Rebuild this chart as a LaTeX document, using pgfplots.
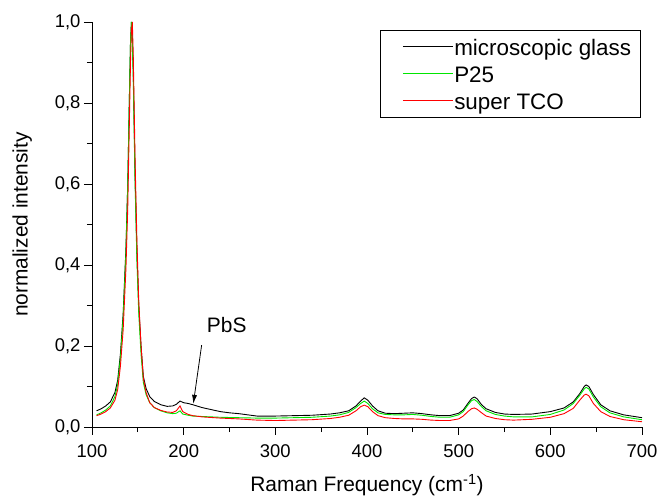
\documentclass[border=0pt]{standalone}
\usepackage{fontspec}
\setmainfont{Liberation Sans}
\usepackage{pgfplots}
\pgfplotsset{compat=1.18}
\usetikzlibrary{arrows.meta}
\definecolor{pgreen}{RGB}{0,230,0}
\newcommand{\lstrut}{\rule{0pt}{21bp}}
\begin{document}
\begin{tikzpicture}
\begin{axis}[
  scale only axis, width=550bp, height=405bp,
  xmin=100, xmax=700, ymin=0, ymax=1,
  axis x line*=bottom, axis y line*=left,
  axis line style={line width=0.8pt},
  tick align=outside, tick style={line width=0.8pt, black},
  major tick length=8bp, minor tick length=5bp,
  xtick={100,200,...,700}, ytick={0,0.2,...,1.0},
  minor x tick num=1, minor y tick num=1,
  /pgf/number format/assume math mode=true,
  yticklabel style={/pgf/number format/.cd, use comma, fixed, fixed zerofill, precision=1},
  xticklabel style={/pgf/number format/.cd, fixed, 1000 sep={}},
  xticklabel shift=6bp,
  tick label style={font=\fontsize{18.5}{22}\selectfont},
  label style={font=\fontsize{21}{25}\selectfont},
  xlabel={Raman Frequency (cm\textsuperscript{-1})},
  ylabel={normalized intensity},
  xlabel style={at={(axis description cs:0.5,-0.143)}, anchor=center},
  ylabel style={at={(axis description cs:-0.127,0.5)}, anchor=center},
  legend style={at={(rel axis cs:0.997,0.98)}, anchor=north east,
    font=\fontsize{22.5}{27}\selectfont, inner xsep=8bp, inner ysep=3bp,
    nodes={inner sep=1bp, text depth=4bp}},
  legend cell align=left,
  legend image code/.code={\path (0bp,0bp); \draw[#1] (14bp,0bp) -- (64bp,0bp);},
  clip=false,
]
\addplot[draw=black, line width=0.9pt] coordinates {
(105,0.040) (110,0.045) (115,0.052) (120,0.062) (125,0.085) (128,0.115) (131,0.18) (134,0.28)
(137,0.44) (139,0.60) (141,0.84) (142,0.95) (143,1.00) (144,0.96) (145,0.88) (147,0.62)
(149,0.43) (151,0.30) (153.5,0.20) (156,0.125) (159,0.095) (163,0.075) (168,0.063) (175,0.055)
(182,0.051) (188,0.052) (192,0.056) (196,0.064) (200,0.060) (205,0.058) (210,0.055) (220,0.048)
(230,0.043) (240,0.038) (250,0.035) (260,0.033) (270,0.030) (280,0.027) (300,0.027) (320,0.028)
(340,0.029) (360,0.032) (370,0.035) (380,0.040) (388,0.052) (393,0.064) (397,0.072) (401,0.066)
(406,0.052) (412,0.040) (420,0.034) (430,0.033) (440,0.034) (450,0.035) (460,0.033) (470,0.030)
(480,0.028) (490,0.028) (500,0.034) (505,0.042) (510,0.058) (514,0.070) (517,0.074) (520,0.070)
(525,0.055) (530,0.045) (540,0.036) (550,0.032) (560,0.031) (580,0.032) (600,0.038) (615,0.047)
(625,0.062) (632,0.082) (637,0.100) (639,0.104) (642,0.100) (647,0.080) (655,0.055) (665,0.040)
(680,0.030) (700,0.023)
};
\addlegendentry{\lstrut microscopic glass}
\addplot[draw=pgreen, line width=0.9pt] coordinates {
(105,0.030) (110,0.035) (115,0.042) (120,0.052) (125,0.075) (128,0.105) (131,0.17) (134,0.27)
(137,0.43) (139,0.60) (141,0.84) (142,0.95) (143,1.00) (144,0.95) (145,0.86) (147,0.60)
(149,0.41) (151,0.28) (153.5,0.18) (156,0.11) (159,0.080) (163,0.060) (168,0.048) (175,0.040)
(182,0.035) (188,0.033) (192,0.034) (196,0.040) (199,0.032) (205,0.029) (210,0.027) (220,0.026)
(240,0.024) (260,0.023) (280,0.022) (300,0.022) (320,0.023) (340,0.024) (360,0.027) (370,0.030)
(380,0.036) (388,0.048) (393,0.058) (397,0.064) (401,0.058) (406,0.045) (412,0.035) (420,0.031)
(430,0.030) (440,0.030) (450,0.031) (460,0.029) (470,0.026) (480,0.024) (490,0.024) (500,0.030)
(505,0.038) (510,0.054) (514,0.065) (517,0.068) (520,0.063) (525,0.050) (530,0.040) (540,0.031)
(550,0.027) (560,0.025) (580,0.025) (600,0.031) (615,0.042) (625,0.058) (632,0.078) (637,0.094)
(639,0.098) (642,0.094) (647,0.074) (655,0.050) (665,0.035) (680,0.025) (700,0.018)
};
\addlegendentry{\lstrut P25}
\addplot[draw=red, line width=0.9pt] coordinates {
(105,0.028) (110,0.032) (115,0.038) (120,0.047) (125,0.066) (128,0.092) (131,0.15) (134,0.24)
(137,0.39) (139,0.54) (141,0.78) (142,0.90) (143,0.98) (144,1.00) (145,0.92) (147,0.66)
(149,0.46) (151,0.31) (153.5,0.20) (156,0.12) (159,0.085) (163,0.060) (168,0.048) (175,0.041)
(182,0.037) (188,0.036) (192,0.040) (196,0.052) (199,0.038) (205,0.031) (210,0.028) (220,0.025)
(240,0.022) (260,0.020) (280,0.017) (300,0.016) (320,0.017) (340,0.018) (360,0.021) (370,0.024)
(380,0.029) (388,0.040) (393,0.050) (397,0.054) (401,0.050) (406,0.038) (412,0.028) (420,0.023)
(430,0.021) (440,0.020) (450,0.020) (460,0.019) (470,0.017) (480,0.016) (490,0.016) (500,0.020)
(505,0.027) (510,0.038) (514,0.045) (517,0.047) (520,0.044) (525,0.035) (530,0.027) (540,0.021)
(550,0.018) (560,0.017) (580,0.019) (600,0.024) (615,0.033) (625,0.046) (632,0.066) (637,0.079)
(639,0.081) (642,0.077) (647,0.058) (655,0.038) (665,0.026) (680,0.018) (700,0.013)
};
\addlegendentry{\lstrut super TCO}
\node[font=\fontsize{21}{25}\selectfont] at (axis cs:247,0.252) {PbS};
\draw[-{Latex[length=9bp,width=5bp]}, line width=0.8pt] (axis cs:219.6,0.202) -- (axis cs:210.5,0.057);
\coordinate (bl) at (rel axis cs:0,0);
\end{axis}
\pgfresetboundingbox
\path ([shift={(-92bp,-73bp)}]bl) rectangle ([shift={(567bp,427bp)}]bl);
\end{tikzpicture}
\end{document}
